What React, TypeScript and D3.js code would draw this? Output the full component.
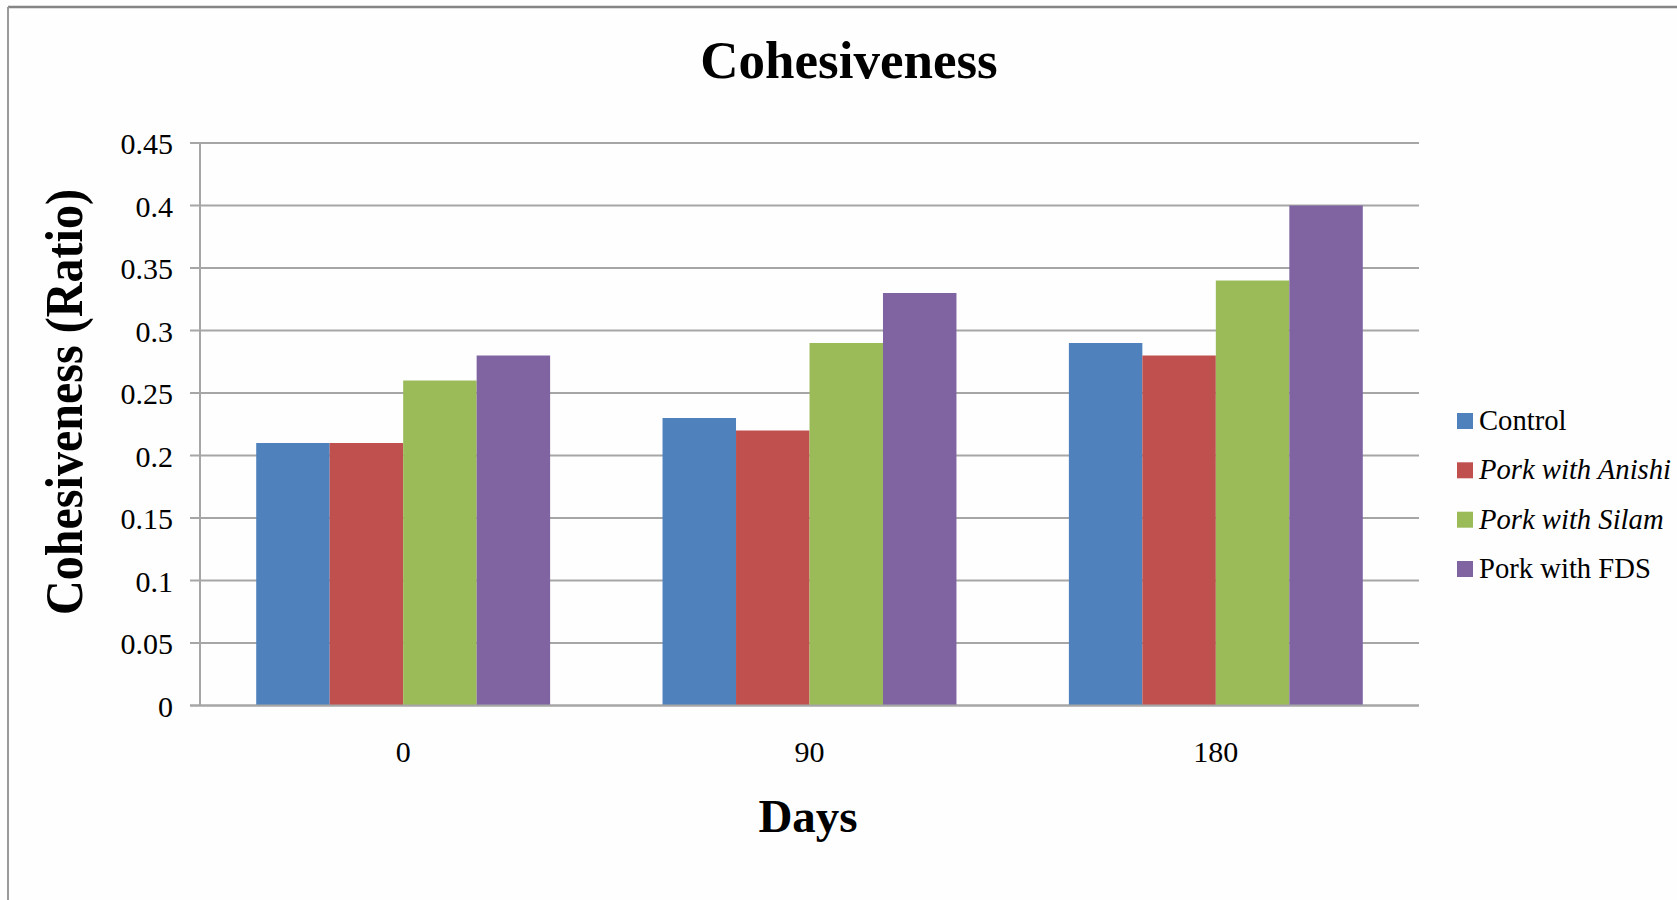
import React from "react";
import * as d3 from "d3";

const categories = ["0", "90", "180"];
const seriesNames = ["Control", "Pork with Anishi", "Pork with Silam", "Pork with FDS"];
const seriesItalic = [false, true, true, false];
const seriesColors = ["#4F81BD", "#C0504D", "#9BBB59", "#8064A2"];
const control = [0.21, 0.23, 0.29];
const anishi = [0.21, 0.22, 0.28];
const silam = [0.26, 0.29, 0.34];
const fds = [0.28, 0.33, 0.4];
const yTicks = [0, 0.05, 0.1, 0.15, 0.2, 0.25, 0.3, 0.35, 0.4, 0.45];
const yTickLabels = ["0", "0.05", "0.1", "0.15", "0.2", "0.25", "0.3", "0.35", "0.4", "0.45"];

const seriesValues = [control, anishi, silam, fds];

export default function App() {
  const W = 1677;
  const H = 900;
  const left = 200;
  const right = 1419;
  const top = 143;
  const bottom = 705.5;
  const font = "'Liberation Serif', 'Times New Roman', serif";

  const x0 = d3.scaleBand<string>().domain(categories).range([left, right]).padding(0);
  const x1 = d3
    .scaleBand<string>()
    .domain(seriesNames)
    .range([0, x0.bandwidth()])
    .paddingInner(0)
    .paddingOuter(0.765);
  const y = d3.scaleLinear().domain([0, 0.45]).range([bottom, top]);

  const legendY = [430, 479.3, 528.7, 578];

  return (
    <svg
      width={W}
      height={H}
      style={{ position: "absolute", left: 0, top: 0, display: "block", background: "#fff" }}
    >
      <rect x={0} y={0} width={W} height={H} fill="#fefefe" />
      {/* outer frame */}
      <line x1={8} y1={7} x2={W} y2={7} stroke="#858585" strokeWidth={2.5} />
      <line x1={8} y1={7} x2={8} y2={H} stroke="#9a9a9a" strokeWidth={2} />

      {/* title */}
      <text
        x={849}
        y={78}
        textAnchor="middle"
        fontFamily={font}
        fontWeight="bold"
        fontSize={53}
        fill="#000"
      >
        Cohesiveness
      </text>

      {/* gridlines & ticks */}
      {yTicks.map((t, i) => (
        <g key={i}>
          <line x1={190} x2={right} y1={y(t)} y2={y(t)} stroke="#a6a6a6" strokeWidth={2} />
          <text
            x={173}
            y={y(t)}
            dy={11}
            textAnchor="end"
            fontFamily={font}
            fontSize={30}
            fill="#000"
          >
            {yTickLabels[i]}
          </text>
        </g>
      ))}
      <line x1={left} x2={left} y1={top} y2={bottom} stroke="#a6a6a6" strokeWidth={2} />

      {/* bars */}
      {categories.map((c, ci) => (
        <g key={c} transform={`translate(${x0(c)},0)`}>
          {seriesNames.map((s, si) => {
            const v = seriesValues[si][ci];
            return (
              <rect
                key={s}
                x={x1(s)}
                y={y(v)}
                width={x1.bandwidth()}
                height={y(0) - y(v)}
                fill={seriesColors[si]}
              />
            );
          })}
        </g>
      ))}
      <line x1={190} x2={right} y1={bottom} y2={bottom} stroke="#a6a6a6" strokeWidth={2} />

      {/* x tick labels */}
      {categories.map((c) => (
        <text
          key={c}
          x={(x0(c) as number) + x0.bandwidth() / 2}
          y={762}
          textAnchor="middle"
          fontFamily={font}
          fontSize={30}
          fill="#000"
        >
          {c}
        </text>
      ))}

      {/* axis titles */}
      <text
        x={808}
        y={832}
        textAnchor="middle"
        fontFamily={font}
        fontWeight="bold"
        fontSize={47}
        fill="#000"
      >
        Days
      </text>
      <text
        transform="translate(82,402) rotate(-90) scale(0.925,1)"
        textAnchor="middle"
        fontFamily={font}
        fontWeight="bold"
        fontSize={52}
        fill="#000"
      >
        Cohesiveness (Ratio)
      </text>

      {/* legend */}
      {seriesNames.map((s, i) => (
        <g key={s}>
          <rect x={1457} y={legendY[i] - 17} width={16} height={16} fill={seriesColors[i]} />
          <text
            x={1479}
            y={legendY[i]}
            fontFamily={font}
            fontSize={30}
            fontStyle={seriesItalic[i] ? "italic" : "normal"}
            fill="#000"
            transform={`translate(1479,0) scale(0.955,1) translate(-1479,0)`}
          >
            {s}
          </text>
        </g>
      ))}
    </svg>
  );
}
